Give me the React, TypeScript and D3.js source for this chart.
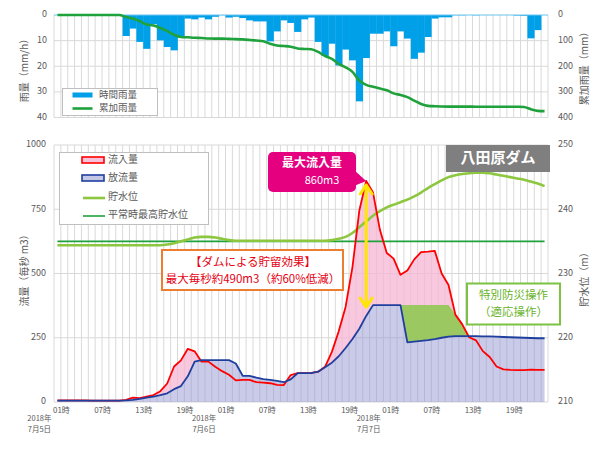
import React from "react";
import * as d3 from "d3";

// ---------- data ----------
const rainHourly = [0,0,0,0,0,0,0,0,0,0, 8.2,5.3,10.5,13.2,3.6,9.9,12.5,13.8,8.7, 1.4,1.7,1.0,1.7,0.7,0.1,1.0,0.7,1.2,2.1,2.5,2.5, 10.3,6.4,2.1,3.1,6.6,1.7,1.0, 10.5,16.0,11.2,19.7,13.5,17.7,33.7,16.8, 7.3,7.3,6.4,12.2,6.4,9.2,17.1,14.7,8.6, 1.4,0.9,0.9,0.1,0.1,0,0.1,0,0,0,0,0,0.2,0.3,9.1,5.9,0];
const rainCumulative = [0,0,0,0,0,0,0,0,0,0, 8.2,13.5,24.0,37.2,40.8,50.7,63.2,77.0,85.7, 87.1,88.8,89.8,91.5,92.2,92.3,93.3,94.0,95.2,97.3,99.8,102.3, 112.6,119.0,121.1,124.2,130.8,132.5,133.5, 144.0,160.0,171.2,190.9,204.4,222.1,255.8,272.6, 279.9,287.2,293.6,305.8,312.2,320.5,334.0,347.0,354.5, 356.0,357.0,357.5,357.6,357.7,357.7,357.8,357.8,357.8,357.8,357.8,357.8,358.2,359.0,367.5,374.0,375.0];
const inflow = [6,6,6,6,6,5,5,5,5,5, 8,17,15,21,27,42,72,138,162, 207,197,157,157,137,120,106,84,86,86,77,75, 73,67,66,105,112,112,113, 118,137,195,275,370,525,745,860, 815,670,580,558,495,512,555,583,585, 588,500,455,340,302,252,240,198,175,138,127,125,124,124,126,125,125];
const outflow = [5,5,5,5,5,5,5,5,5,5, 6,8,12,17,21,27,34,50,62, 100,157,163,163,163,163,163,150,102,102,95,89, 86,82,77,88,112,112,112, 118,135,153,178,210,245,285,335, 377,377,377,377,377,232,235,238,241, 245,250,254,256,256,256,256,255,255,254,253,252,251,250,249,248,248];
const waterLevel = [234.4,234.4,234.4,234.4,234.4,234.4,234.4,234.4,234.4,234.4,234.4,234.4,234.4,234.4,234.4,234.4, 234.5,234.7,235.0,235.3,235.6,235.7,235.7,235.6,235.4,235.2,235.1, 235.1,235.1,235.1,235.1,235.1,235.1,235.1,235.1,235.1,235.1,235.1,235.1, 235.1,235.2,235.4,235.7,236.3,237.2,238.1,239.0,239.7,240.3,240.7,241.1, 241.5,242.0,242.6,243.3,243.9,244.5,245.0,245.3,245.5,245.6,245.7,245.7,245.6,245.4,245.2,245.0,244.8,244.6,244.3,244.0,243.6];
const normalMaxLevel = 235.0;
const hourTickLabels = ["01時","07時","13時","19時","01時","07時","13時","19時","01時","07時","13時","19時"];
const dateLabels = ["7月5日","7月6日","7月7日"];
const rainTicks = [0,10,20,30,40];
const cumTicks = [0,100,200,300,400];
const flowTicks = [0,250,500,750,1000];
const levelTicks = [210,220,230,240,250];

const FONT = "'Noto Sans CJK JP', 'Noto Sans', sans-serif";
const GREY = "#595959";
const GRID = "#d9d9d9";

export default function App() {
  const n = inflow.length;
  const x = d3.scaleBand<number>().domain(d3.range(n)).range([54, 548]).padding(0);
  const bw = x.bandwidth();
  const cx = (i: number) => (x(i) as number) + bw / 2;

  // top chart scales
  const yRain = d3.scaleLinear().domain([0, 40]).range([15, 117.5]);
  const yCum = d3.scaleLinear().domain([0, 400]).range([15, 117.5]);
  // main chart scales
  const yFlow = d3.scaleLinear().domain([0, 1000]).range([402, 145]);
  const yLevel = d3.scaleLinear().domain([210, 250]).range([402, 145]);

  const cumLine = d3.line<number>().x((_, i) => cx(i)).y((d) => yCum(d)).curve(d3.curveMonotoneX)(rainCumulative) || "";
  const levelLine = d3.line<number>().x((_, i) => cx(i)).y((d) => yLevel(d)).curve(d3.curveMonotoneX)(waterLevel) || "";
  const inLine = d3.line<number>().x((_, i) => cx(i)).y((d) => yFlow(d))(inflow) || "";
  const outLine = d3.line<number>().x((_, i) => cx(i)).y((d) => yFlow(d))(outflow) || "";
  const outArea = d3.area<number>().x((_, i) => cx(i)).y0(yFlow(0)).y1((d) => yFlow(d))(outflow) || "";
  const pinkArea = d3.area<number>().x((_, i) => cx(i)).y0((_, i) => yFlow(outflow[i])).y1((d, i) => yFlow(Math.max(d, outflow[i])))(inflow) || "";

  const maxOut = d3.max(outflow) as number;
  const peakIdx = d3.maxIndex(inflow);
  const opStart = outflow.lastIndexOf(maxOut);
  const greenIdx = d3.range(opStart, n).filter((i) => i <= 61);
  const greenArea = d3.area<number>()
    .x((i) => cx(i))
    .y0((i) => yFlow(outflow[i]))
    .y1((i) => yFlow(Math.max(outflow[i], Math.min(inflow[i], maxOut))))(greenIdx) || "";

  const vLines = d3.range(n + 1).map((i) => (i < n ? (x(i) as number) : 548));

  const arrowX = cx(peakIdx);
  const arrowTop = yFlow(inflow[peakIdx]) + 3;
  const arrowBot = yFlow(maxOut) + 3;

  return (
    <svg width={600} height={457} style={{ position: "absolute", left: 0, top: 0, background: "#fff" }} fontFamily={FONT}>
      <rect x={0} y={0} width={600} height={457} fill="#fff" />
      {/* ================= TOP CHART ================= */}
      <g>
        {vLines.map((vx, i) => (
          <line key={"tv" + i} x1={vx} x2={vx} y1={15} y2={117.5} stroke={GRID} strokeWidth={1} />
        ))}
        {rainTicks.slice(1).map((t) => (
          <line key={"th" + t} x1={54} x2={548} y1={yRain(t)} y2={yRain(t)} stroke={GRID} strokeWidth={1} />
        ))}
        {rainHourly.map((v, i) =>
          v > 0 ? (
            <rect key={"b" + i} x={x(i)} y={yRain(0)} width={bw + 0.3} height={yRain(v) - yRain(0)} fill="#00a0e9" />
          ) : null
        )}
        <line x1={54} x2={548} y1={15} y2={15} stroke="#6cc4f0" strokeWidth={1.2} />
        <path d={cumLine} fill="none" stroke="#1fa23c" strokeWidth={2.6} />
        {rainTicks.map((t) => (
          <text key={"rl" + t} x={47} y={yRain(t)} textAnchor="end" dominantBaseline="middle" fontSize={9} fill={GREY}>{t}</text>
        ))}
        {cumTicks.map((t) => (
          <text key={"cl" + t} x={558} y={yCum(t)} textAnchor="start" dominantBaseline="middle" fontSize={9} fill={GREY}>{t}</text>
        ))}
        <text transform="translate(25,68) rotate(-90)" textAnchor="middle" dominantBaseline="middle" fontSize={10} fill={GREY}>雨量（mm/h）</text>
        <text transform="translate(585,66) rotate(-90)" textAnchor="middle" dominantBaseline="middle" fontSize={10} fill={GREY}>累加雨量（mm）</text>
        {/* legend */}
        <rect x={62.5} y={88.5} width={95} height={27} fill="#fff" stroke="#bfbfbf" strokeWidth={1} />
        <rect x={72.5} y={92.5} width={20} height={5} fill="#00a0e9" />
        <text x={99} y={95.5} dominantBaseline="middle" fontSize={9.5} fill={GREY}>時間雨量</text>
        <line x1={72.5} x2={92.5} y1={108.5} y2={108.5} stroke="#1fa23c" strokeWidth={2.6} />
        <text x={99} y={108.5} dominantBaseline="middle" fontSize={9.5} fill={GREY}>累加雨量</text>
      </g>

      {/* ================= MAIN CHART ================= */}
      <g>
        {vLines.map((vx, i) => (
          <line key={"mv" + i} x1={vx} x2={vx} y1={145} y2={402} stroke={GRID} strokeWidth={1} />
        ))}
        {flowTicks.map((t) => (
          <line key={"mh" + t} x1={54} x2={548} y1={yFlow(t)} y2={yFlow(t)} stroke={GRID} strokeWidth={1} />
        ))}
        <path d={pinkArea} fill="#f5b6d4" fillOpacity={0.75} />
        <path d={outArea} fill="#8e92d2" fillOpacity={0.48} />
        <path d={greenArea} fill="#8cc84b" fillOpacity={0.85} />
        <line x1={cx(0)} x2={cx(n - 1)} y1={yLevel(normalMaxLevel)} y2={yLevel(normalMaxLevel)} stroke="#1fa23c" strokeWidth={1.6} />
        <path d={levelLine} fill="none" stroke="#8dc63f" strokeWidth={2.6} />
        <path d={inLine} fill="none" stroke="#ff0000" strokeWidth={1.8} strokeLinejoin="round" />
        <path d={outLine} fill="none" stroke="#1f3f9f" strokeWidth={1.8} strokeLinejoin="round" />

        {flowTicks.map((t) => (
          <text key={"fl" + t} x={46} y={yFlow(t)} textAnchor="end" dominantBaseline="middle" fontSize={9} fill={GREY}>{t}</text>
        ))}
        {levelTicks.map((t) => (
          <text key={"ll" + t} x={558} y={yLevel(t)} textAnchor="start" dominantBaseline="middle" fontSize={9} fill={GREY}>{t}</text>
        ))}
        <text transform="translate(25,268) rotate(-90)" textAnchor="middle" dominantBaseline="middle" fontSize={10} fill={GREY}>流量（毎秒 m3）</text>
        <text transform="translate(585,277) rotate(-90)" textAnchor="middle" dominantBaseline="middle" fontSize={10} fill={GREY}>貯水位（m）</text>

        {hourTickLabels.map((lab, k) => (
          <text key={"xt" + k} x={cx(k * 6) + 4} y={411} textAnchor="middle" dominantBaseline="middle" fontSize={8} fill={GREY}>{lab}</text>
        ))}
        {dateLabels.map((lab, d) => (
          <g key={"dl" + d}>
            <text x={cx(d * 24) - 18} y={418.5} textAnchor="middle" dominantBaseline="middle" fontSize={7.5} fill={GREY}>2018年</text>
            <text x={cx(d * 24) - 18} y={429.5} textAnchor="middle" dominantBaseline="middle" fontSize={7.5} fill={GREY}>{lab}</text>
          </g>
        ))}

        {/* legend */}
        <rect x={59.5} y={152.5} width={149} height={72} fill="#fff" stroke="#bfbfbf" strokeWidth={1} />
        <rect x={82} y={157} width={22} height={6} fill="#f5c2da" stroke="#ff0000" strokeWidth={1.6} />
        <text x={108} y={160.5} dominantBaseline="middle" fontSize={10} fill={GREY}>流入量</text>
        <rect x={82} y={175} width={22} height={6} fill="#c5c7e7" stroke="#1f3f9f" strokeWidth={1.6} />
        <text x={108} y={178.5} dominantBaseline="middle" fontSize={10} fill={GREY}>放流量</text>
        <line x1={83} x2={105} y1={198} y2={198} stroke="#8dc63f" strokeWidth={2.6} />
        <text x={108} y={197} dominantBaseline="middle" fontSize={10} fill={GREY}>貯水位</text>
        <line x1={83} x2={105} y1={216} y2={216} stroke="#1fa23c" strokeWidth={1.6} />
        <text x={108} y={215} dominantBaseline="middle" fontSize={10} fill={GREY}>平常時最高貯水位</text>

        {/* dam name box */}
        <rect x={446} y={145} width={104} height={27} fill="#7f7f7f" />
        <text x={498} y={159} textAnchor="middle" dominantBaseline="middle" fontSize={15} fontWeight="bold" fill="#fff">八田原ダム</text>

        {/* peak callout */}
        <rect x={268} y={152} width={88} height={40} rx={5} fill="#e4007f" />
        <path d={`M354,170 L${arrowX},${yFlow(inflow[peakIdx])} L354,186 Z`} fill="#e4007f" />
        <text x={312} y={163.5} textAnchor="middle" dominantBaseline="middle" fontSize={12} fontWeight="bold" fill="#fff">最大流入量</text>
        <text x={322} y={181.5} textAnchor="middle" dominantBaseline="middle" fontSize={11} fill="#fff">860m3</text>

        {/* yellow double arrow */}
        <line x1={arrowX} x2={arrowX} y1={arrowTop + 1} y2={arrowBot - 1} stroke="#ffe600" strokeWidth={3} />
        <polyline points={`${arrowX - 6},${arrowTop + 10} ${arrowX},${arrowTop + 1} ${arrowX + 6},${arrowTop + 10}`} fill="none" stroke="#ffe600" strokeWidth={3} strokeLinejoin="round" strokeLinecap="round" />
        <polyline points={`${arrowX - 6},${arrowBot - 10} ${arrowX},${arrowBot - 1} ${arrowX + 6},${arrowBot - 10}`} fill="none" stroke="#ffe600" strokeWidth={3} strokeLinejoin="round" strokeLinecap="round" />

        {/* storage effect box */}
        <rect x={162} y={250} width={181} height={40} fill="#fff" stroke="#ed7d31" strokeWidth={2} />
        <text x={253} y={263} textAnchor="middle" dominantBaseline="middle" fontSize={11.5} fill="#e60012">【ダムによる貯留効果】</text>
        <text x={253} y={280} textAnchor="middle" dominantBaseline="middle" fontSize={11.5} fill="#e60012">最大毎秒約490m3（約60%低減）</text>

        {/* special operation box */}
        <rect x={467} y={283.5} width={93} height={41} fill="#fff" stroke="#7dc242" strokeWidth={2} />
        <text x={513.5} y={296} textAnchor="middle" dominantBaseline="middle" fontSize={11.5} fill="#6ab42d">特別防災操作</text>
        <text x={513.5} y={313} textAnchor="middle" dominantBaseline="middle" fontSize={11.5} fill="#6ab42d">（適応操作）</text>
      </g>
    </svg>
  );
}
